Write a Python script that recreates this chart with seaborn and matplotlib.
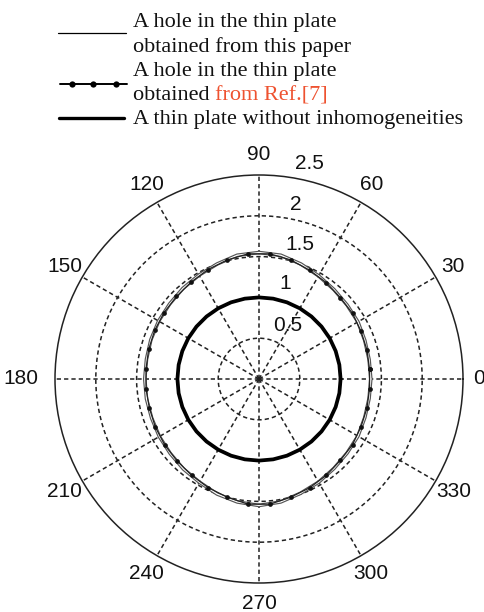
import numpy as np
import matplotlib
matplotlib.use("Agg")
import matplotlib.pyplot as plt
from matplotlib.lines import Line2D
import seaborn as sns

# ---------------- data ----------------
paper_deg = [0, 10, 20, 30, 40, 50, 60, 70, 80, 90, 100, 110, 120, 130, 140, 150, 160, 170, 180,
             190, 200, 210, 220, 230, 240, 250, 260, 270, 280, 290, 300, 310, 320, 330, 340, 350, 360]
paper_r = [1.37, 1.37, 1.38, 1.40, 1.41, 1.43, 1.46, 1.50, 1.54, 1.55, 1.54, 1.50, 1.47, 1.45, 1.43,
           1.42, 1.41, 1.40, 1.40, 1.40, 1.40, 1.41, 1.42, 1.44, 1.46, 1.50, 1.53, 1.55, 1.53, 1.49,
           1.46, 1.43, 1.41, 1.40, 1.38, 1.37, 1.37]

ref_deg = [5, 15, 25, 35, 45, 55, 65, 75, 85, 95, 105, 115, 125, 135, 145, 155, 165, 175, 185,
           195, 205, 215, 225, 235, 245, 255, 265, 275, 285, 295, 305, 315, 325, 335, 345, 355, 365]
ref_r = [1.36, 1.37, 1.38, 1.40, 1.41, 1.44, 1.47, 1.51, 1.54, 1.54, 1.51, 1.48, 1.45, 1.43, 1.42,
         1.41, 1.40, 1.39, 1.39, 1.39, 1.40, 1.41, 1.42, 1.44, 1.47, 1.50, 1.54, 1.54, 1.50, 1.47,
         1.44, 1.41, 1.40, 1.38, 1.37, 1.36, 1.36]

plain_deg = paper_deg
plain_r = [1.00, 1.00, 1.00, 1.00, 1.00, 1.00, 1.00, 1.00, 1.00, 1.00, 1.00, 1.00, 1.00, 1.00, 1.00,
           1.00, 1.00, 1.00, 1.00, 1.00, 1.00, 1.00, 1.00, 1.00, 1.00, 1.00, 1.00, 1.00, 1.00, 1.00,
           1.00, 1.00, 1.00, 1.00, 1.00, 1.00, 1.00]

theta_ticks = [0, 30, 60, 90, 120, 150, 180, 210, 240, 270, 300, 330]
r_ticks = [0.5, 1.0, 1.5, 2.0]
r_tick_labels = ["0.5", "1", "1.5", "2", "2.5"]
r_max = 2.5

legend_lines = ["A hole in the thin plate", "obtained from this paper",
                "A hole in the thin plate", "obtained", "from Ref.[7]",
                "A thin plate without inhomogeneities"]

# ---------------- style ----------------
sns.set_style("white")
plt.rcParams['font.family'] = ['Liberation Sans', 'DejaVu Sans']

W, H = 485, 612
fig = plt.figure(figsize=(W / 100, H / 100), dpi=100)
cx, cy, R = 259, 379, 204
ax = fig.add_axes([(cx - R) / W, (H - cy - R) / H, 2 * R / W, 2 * R / H], projection='polar')

ax.set_ylim(0, r_max)
ax.set_thetagrids(theta_ticks, labels=[''] * len(theta_ticks))
ax.set_rgrids(r_ticks, labels=[''] * len(r_ticks))
ax.grid(True, color='#222222', linestyle=(0, (2.8, 2.0)), linewidth=1.1)
ax.spines['polar'].set_color('#222222')
ax.spines['polar'].set_linewidth(1.1)
ax.tick_params(length=0)

# curves
sns.lineplot(x=np.deg2rad(plain_deg), y=plain_r, ax=ax, sort=False, estimator=None,
             color='black', linewidth=2.7)
sns.lineplot(x=np.deg2rad(paper_deg), y=paper_r, ax=ax, sort=False, estimator=None,
             color='#555555', linewidth=2.6)
sns.lineplot(x=np.deg2rad(paper_deg), y=paper_r, ax=ax, sort=False, estimator=None,
             color='white', linewidth=0.9)
sns.lineplot(x=np.deg2rad(ref_deg), y=ref_r, ax=ax, sort=False, estimator=None,
             color='#222222', linewidth=0.9, marker='o', markersize=3.4,
             markeredgewidth=0, markerfacecolor='#111111')
ax.set_xlabel('')
ax.set_ylabel('')

# theta labels
for t in theta_ticks:
    if t == 180:
        rr = 2.92
    elif t == 0:
        rr = 2.70
    else:
        rr = 2.75
    ax.text(np.deg2rad(t), rr, str(t), ha='center', va='center', fontsize=15,
            color='#111111', clip_on=False)

# radial labels (angle, radius) positions
r_label_pos = [(61.8, 0.75), (74.7, 1.21), (73.0, 1.73), (78.0, 2.19), (76.7, 2.71)]
for (a, rr), lab in zip(r_label_pos, r_tick_labels):
    ax.text(np.deg2rad(a), rr, lab, ha='center', va='center', fontsize=15,
            color='#111111', clip_on=False)

# ---------------- legend ----------------
def fy(y):
    return 1 - y / H

def fx(x):
    return x / W

fig.add_artist(Line2D([fx(58), fx(126)], [fy(33), fy(33)], color='black', lw=0.9))
fig.add_artist(Line2D([fx(60), fx(127)], [fy(84), fy(84)], color='black', lw=1.4))
fig.add_artist(Line2D([fx(72), fx(93), fx(116)], [fy(84)] * 3, color='black', lw=0,
                      marker='o', markersize=4.5, markeredgewidth=0))
fig.add_artist(Line2D([fx(59), fx(124)], [fy(118), fy(118)], color='black', lw=2.4))

serif = ['Liberation Serif', 'DejaVu Serif']
tx = fx(133)
fs = 16
fig.text(tx, fy(27), legend_lines[0], family=serif, fontsize=fs, va='baseline', color='#111111')
fig.text(tx, fy(52), legend_lines[1], family=serif, fontsize=fs, va='baseline', color='#111111')
fig.text(tx, fy(76), legend_lines[2], family=serif, fontsize=fs, va='baseline', color='#111111')
t4 = fig.text(tx, fy(100), legend_lines[3] + " ", family=serif, fontsize=fs, va='baseline',
              color='#111111')
fig.canvas.draw()
bb = t4.get_window_extent(renderer=fig.canvas.get_renderer())
fig.text(bb.x1 / W, fy(100), legend_lines[4], family=serif, fontsize=fs, va='baseline',
         color='#EE5230')
fig.text(tx, fy(124), legend_lines[5], family=serif, fontsize=fs, va='baseline', color='#111111')

fig.savefig("out.png", dpi=100)
